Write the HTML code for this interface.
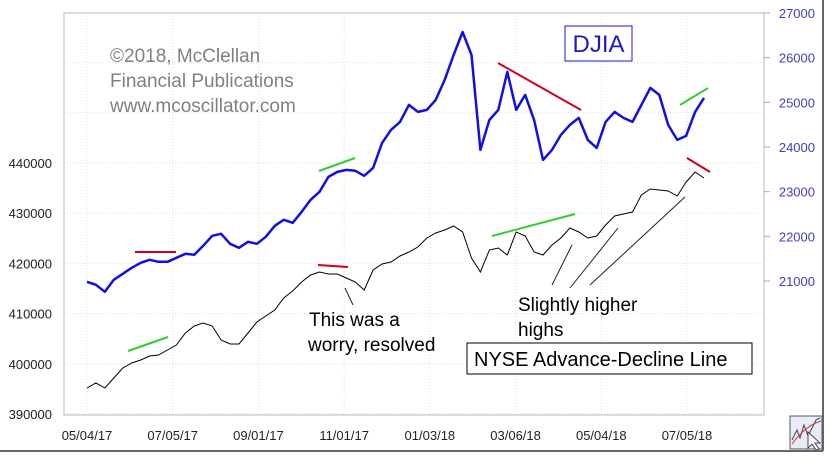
<!DOCTYPE html>
<html><head><meta charset="utf-8"><style>
body{margin:0;background:#fff;}
svg{display:block;font-family:"Liberation Sans",Arial,sans-serif;}
</style></head><body>
<svg id="c" width="829" height="458" viewBox="0 0 829 458">
<rect x="0" y="0" width="829" height="458" fill="#fff"/>
<rect x="64" y="13" width="700" height="402" fill="#fff" stroke="#bbb" stroke-width="1"/>
<g id="grid"></g>
<g id="axes"></g>
<g id="annot">
<line x1="135" y1="252" x2="176" y2="252" stroke="#d0001a" stroke-width="2"/>
<line x1="498" y1="63" x2="581" y2="110" stroke="#d0001a" stroke-width="2"/>
<line x1="318" y1="265" x2="348" y2="267" stroke="#d0001a" stroke-width="2"/>
<line x1="687" y1="158" x2="710" y2="172" stroke="#d0001a" stroke-width="2"/>
<line x1="128" y1="351" x2="168" y2="337" stroke="#33cc33" stroke-width="2"/>
<line x1="319" y1="171" x2="355" y2="158" stroke="#33cc33" stroke-width="2"/>
<line x1="492" y1="236" x2="575" y2="214" stroke="#33cc33" stroke-width="2"/>
<line x1="680" y1="105" x2="708" y2="88" stroke="#33cc33" stroke-width="2"/>
<line x1="345" y1="288" x2="353" y2="305" stroke="#222" stroke-width="1"/>
<line x1="552" y1="285" x2="572" y2="245" stroke="#222" stroke-width="1"/>
<line x1="570" y1="288" x2="618" y2="228" stroke="#222" stroke-width="1"/>
<line x1="590" y1="285" x2="685" y2="197" stroke="#222" stroke-width="1"/>
</g>
<g id="series"></g>
<g fill="#808080" font-size="19">
<text x="110" y="62">©2018, McClellan</text>
<text x="110" y="87">Financial Publications</text>
<text x="110" y="112">www.mcoscillator.com</text>
</g>
<rect x="565" y="26" width="67" height="35" fill="#fff" stroke="#1a1acc"/>
<text x="598.5" y="52" text-anchor="middle" font-size="24" fill="#1a1acc">DJIA</text>
<g font-size="19" fill="#000">
<text x="309" y="326">This was a</text>
<text x="308" y="351">worry, resolved</text>
</g>
<g font-size="19" fill="#000">
<text x="518" y="311">Slightly higher</text>
<text x="518" y="336">highs</text>
</g>
<rect x="467" y="343" width="285" height="31" fill="#fff" stroke="#000"/>
<text x="474" y="366" font-size="20" fill="#000">NYSE Advance-Decline Line</text>
<line x1="0" y1="451" x2="823" y2="451" stroke="#666" stroke-width="2"/>
<line x1="823" y1="0" x2="823" y2="451" stroke="#666" stroke-width="2"/>
<g>
<rect x="790" y="416" width="32" height="33" fill="#e8ecf4" stroke="#556"/>
<path d="M792 440 L797 430 L800 438 L804 425 L808 436 L812 428 L816 420 L820 418" fill="none" stroke="#445" stroke-width="1"/>
<path d="M792 444 Q805 426 821 421" fill="none" stroke="#d33" stroke-width="1"/>
<path d="M808 432 L808 448 L812 444 L816 450 L819 449 L815 443 L820 443 Z" fill="#fff" stroke="#445"/>
</g>
</svg>
<script>
const dates = ["05/04/17","07/05/17","09/01/17","11/01/17","01/03/18","03/06/18","05/04/18","07/05/18"];
const leftTicks = [390000,400000,410000,420000,430000,440000];
const rightTicks = [21000,22000,23000,24000,25000,26000,27000];
const djia = [20982,20915,20759,21027,21161,21296,21407,21475,21430,21430,21519,21609,21586,21788,22011,22056,21833,21743,21877,21833,21989,22235,22369,22302,22548,22817,22996,23331,23443,23488,23466,23354,23533,24092,24383,24562,24942,24785,24830,25054,25501,26060,26575,26060,23935,24606,24830,25680,24830,25166,24606,23712,23935,24271,24495,24651,24159,23980,24562,24785,24651,24562,24942,25322,25166,24495,24159,24248,24785,25099];
const adLine = [395180,396176,395180,397172,399164,400160,400758,401554,401754,402750,403746,406136,407530,408128,407530,404742,403945,403945,406136,408327,409522,410718,413108,414502,416295,417690,418287,417889,417889,417092,416295,414702,418686,419881,420279,421474,422271,423267,425060,426056,426654,427450,426255,421076,418287,422670,423068,421674,426255,425458,422271,421674,423666,425060,427052,426255,425060,425458,427650,429442,429841,430239,433626,434821,434622,434422,433426,436215,438207,437012];

const NS='http://www.w3.org/2000/svg';
const yL = v => 414 - (v-390000)/10000*50.2;
const yR = v => 281 - (v-21000)/1000*44.67;
const xD = i => 87 + i*(687-87)/7;
const xI = (i,n) => 87 + i*(704-87)/(n-1);
function mk(t,a,p){const e=document.createElementNS(NS,t);for(const k in a)e.setAttribute(k,a[k]);p.appendChild(e);return e;}
const grid=document.getElementById('grid'), axes=document.getElementById('axes'), series=document.getElementById('series');
dates.forEach((d,i)=>{
  const x=xD(i);
  const gl=mk('line',{x1:x,y1:13,x2:x,y2:415,stroke:'#ddd','stroke-dasharray':'1,2'},grid);
  
  
  const t=mk('text',{x:x,y:440,'text-anchor':'middle','font-size':'13',fill:'#222'},axes);
  t.textContent=d;
  
  
});
for(let v=390000;v<=470000;v+=10000){
  const gl=mk('line',{x1:64,y1:yL(v),x2:764,y2:yL(v),stroke:'#ddd','stroke-dasharray':'1,2'},grid);
  
  
}
leftTicks.forEach(v=>{
  const t=mk('text',{x:52,y:yL(v)+5,'text-anchor':'end','font-size':'13',fill:'#222'},axes);
  t.textContent=v;
  
  
});
rightTicks.forEach(v=>{
  const tk=mk('line',{x1:764,y1:yR(v),x2:770,y2:yR(v),stroke:'#aaa'},axes);
  
  
  const t=mk('text',{x:815,y:yR(v)+5,'text-anchor':'end','font-size':'13',fill:'#4040c0'},axes);
  t.textContent=v;
  
  
});
const pd=djia.map((v,i)=>(i?'L':'M')+xI(i,djia.length).toFixed(1)+' '+yR(v).toFixed(1)).join(' ');
const p1=mk('path',{d:pd,fill:'none',stroke:'#1010e0','stroke-width':'2.5','stroke-linejoin':'round'},series);


const pa=adLine.map((v,i)=>(i?'L':'M')+xI(i,adLine.length).toFixed(1)+' '+yL(v).toFixed(1)).join(' ');
const p2=mk('path',{d:pa,fill:'none',stroke:'#000','stroke-width':'1'},series);


</script>
</body></html>
